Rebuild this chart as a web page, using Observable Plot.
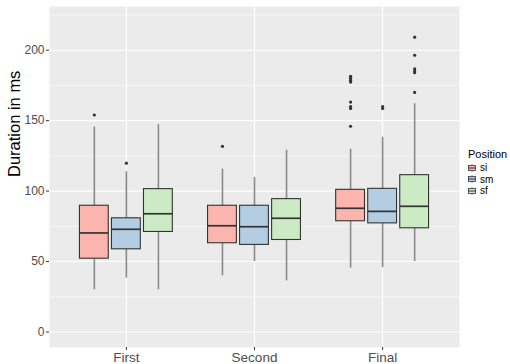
<!DOCTYPE html>
<html>
<head>
<meta charset="utf-8">
<script src="https://cdn.jsdelivr.net/npm/d3@7"></script>
<script src="https://cdn.jsdelivr.net/npm/@observablehq/plot@0.6"></script>
<style>
  html, body { margin: 0; padding: 0; background: white; }
  #wrap { position: relative; width: 510px; height: 364px; font-family: "Liberation Sans", Arial, sans-serif; }
  #legend { position: absolute; left: 468px; top: 148px; font-family: "Liberation Sans", Arial, sans-serif; color: #000; }
  #legend .title { font-size: 11px; line-height: 13px; margin-bottom: 1px; }
  #legend .row { display: flex; align-items: center; height: 11.6px; font-size: 10px; line-height: 11.6px; }
  #legend .row svg { margin-right: 4px; }
</style>
</head>
<body>
<div id="wrap"><div id="legend"></div></div>
<script>
const groups = ["First", "Second", "Final"];
const positions = ["si", "sm", "sf"];
const colors = ["#FBB4AE", "#B3CDE3", "#CCEBC5"];
// per group: [lower whisker, Q1, median, Q3, upper whisker]
const siStats = [[30, 52, 70.3, 89.6, 145.5], [39.8, 63, 75.4, 89.6, 115.6], [45.3, 78.6, 87.8, 100.9, 129.7]];
const smStats = [[38.2, 58.7, 72.9, 80.7, 113.7], [50, 61.8, 74.7, 89.6, 109.7], [45.7, 77.1, 85.6, 101.6, 138.2]];
const sfStats = [[30, 71, 83.9, 101.4, 147.2], [36.3, 65.3, 80.7, 94.3, 129], [50, 73.6, 89.2, 111.3, 162]];
const siOutliers = [[154], [131.8], [181.5, 180, 178.6, 177.4, 163.2, 160, 158.6, 146]];
const smOutliers = [[119.8], [], [160, 158.6]];
const sfOutliers = [[], [], [209.2, 196.4, 186.8, 185.2, 184, 170]];
const yTicks = [0, 50, 100, 150, 200];
const yMinor = [25, 75, 125, 175, 225];
const yTitle = "Duration in ms";
const legendTitle = "Position";

const statsBySeries = [siStats, smStats, sfStats];
const outliersBySeries = [siOutliers, smOutliers, sfOutliers];
const dodge = 0.25, halfW = 0.1125;
const boxes = [];
const outliers = [];
groups.forEach((g, gi) => {
  positions.forEach((p, pi) => {
    const s = statsBySeries[pi][gi];
    const x = gi + 1 + (pi - 1) * dodge;
    boxes.push({group: g, position: p, x, x1: x - halfW, x2: x + halfW, lo: s[0], q1: s[1], med: s[2], q3: s[3], hi: s[4]});
    outliersBySeries[pi][gi].forEach(v => outliers.push({x, y: v, position: p}));
  });
});
const groupX = groups.map((g, i) => i + 1);

const chart = Plot.plot({
  width: 510,
  height: 364,
  marginLeft: 49,
  marginRight: 51,
  marginTop: 6,
  marginBottom: 17,
  style: {fontFamily: "Liberation Sans, Arial, sans-serif", background: "white"},
  x: {type: "linear", domain: [0.4, 3.6]},
  y: {domain: [-11, 231]},
  color: {domain: positions, range: colors},
  marks: [
    Plot.frame({fill: "#EBEBEB", stroke: "none"}),
    Plot.ruleY(yMinor, {stroke: "white", strokeWidth: 0.55}),
    Plot.ruleY(yTicks, {stroke: "white", strokeWidth: 1.1}),
    Plot.ruleX(groupX, {stroke: "white", strokeWidth: 1.1}),
    Plot.ruleX(boxes, {x: "x", y1: "lo", y2: "q1", stroke: "#8a8a8a", strokeWidth: 1.6}),
    Plot.ruleX(boxes, {x: "x", y1: "q3", y2: "hi", stroke: "#8a8a8a", strokeWidth: 1.6}),
    Plot.rect(boxes, {x1: "x1", x2: "x2", y1: "q1", y2: "q3", fill: "position", stroke: "#333", strokeWidth: 1.1}),
    Plot.ruleY(boxes, {x1: "x1", x2: "x2", y: "med", stroke: "#333", strokeWidth: 1.7}),
    Plot.dot(outliers, {x: "x", y: "y", r: 1.6, fill: "#333", stroke: "none"}),
    Plot.axisY(yTicks, {tickSize: 3, tickPadding: 2, fontSize: 12, fill: "#4D4D4D", stroke: "#333", label: null}),
    Plot.axisX(groupX, {tickFormat: d => groups[d - 1], tickSize: 3, tickPadding: 2, fontSize: 13.5, fill: "#4D4D4D", stroke: "#333", label: null}),
    Plot.text([yTitle], {frameAnchor: "left", rotate: -90, dx: -35, fontSize: 16.5, fill: "black"})
  ]
});
document.getElementById("wrap").prepend(chart);

const legend = document.getElementById("legend");
const t = document.createElement("div");
t.className = "title";
t.textContent = legendTitle;
legend.appendChild(t);
positions.forEach((p, i) => {
  const row = document.createElement("div");
  row.className = "row";
  row.innerHTML = `<svg width="8" height="8" viewBox="0 0 8 8"><line x1="4" x2="4" y1="0" y2="8" stroke="#8a8a8a" stroke-width="1"/><rect x="0.5" y="1.5" width="7" height="5" fill="${colors[i]}" stroke="#333" stroke-width="0.8"/><line x1="0.5" x2="7.5" y1="4" y2="4" stroke="#333" stroke-width="1"/></svg><span>${p}</span>`;
  legend.appendChild(row);
});
</script>
</body>
</html>
